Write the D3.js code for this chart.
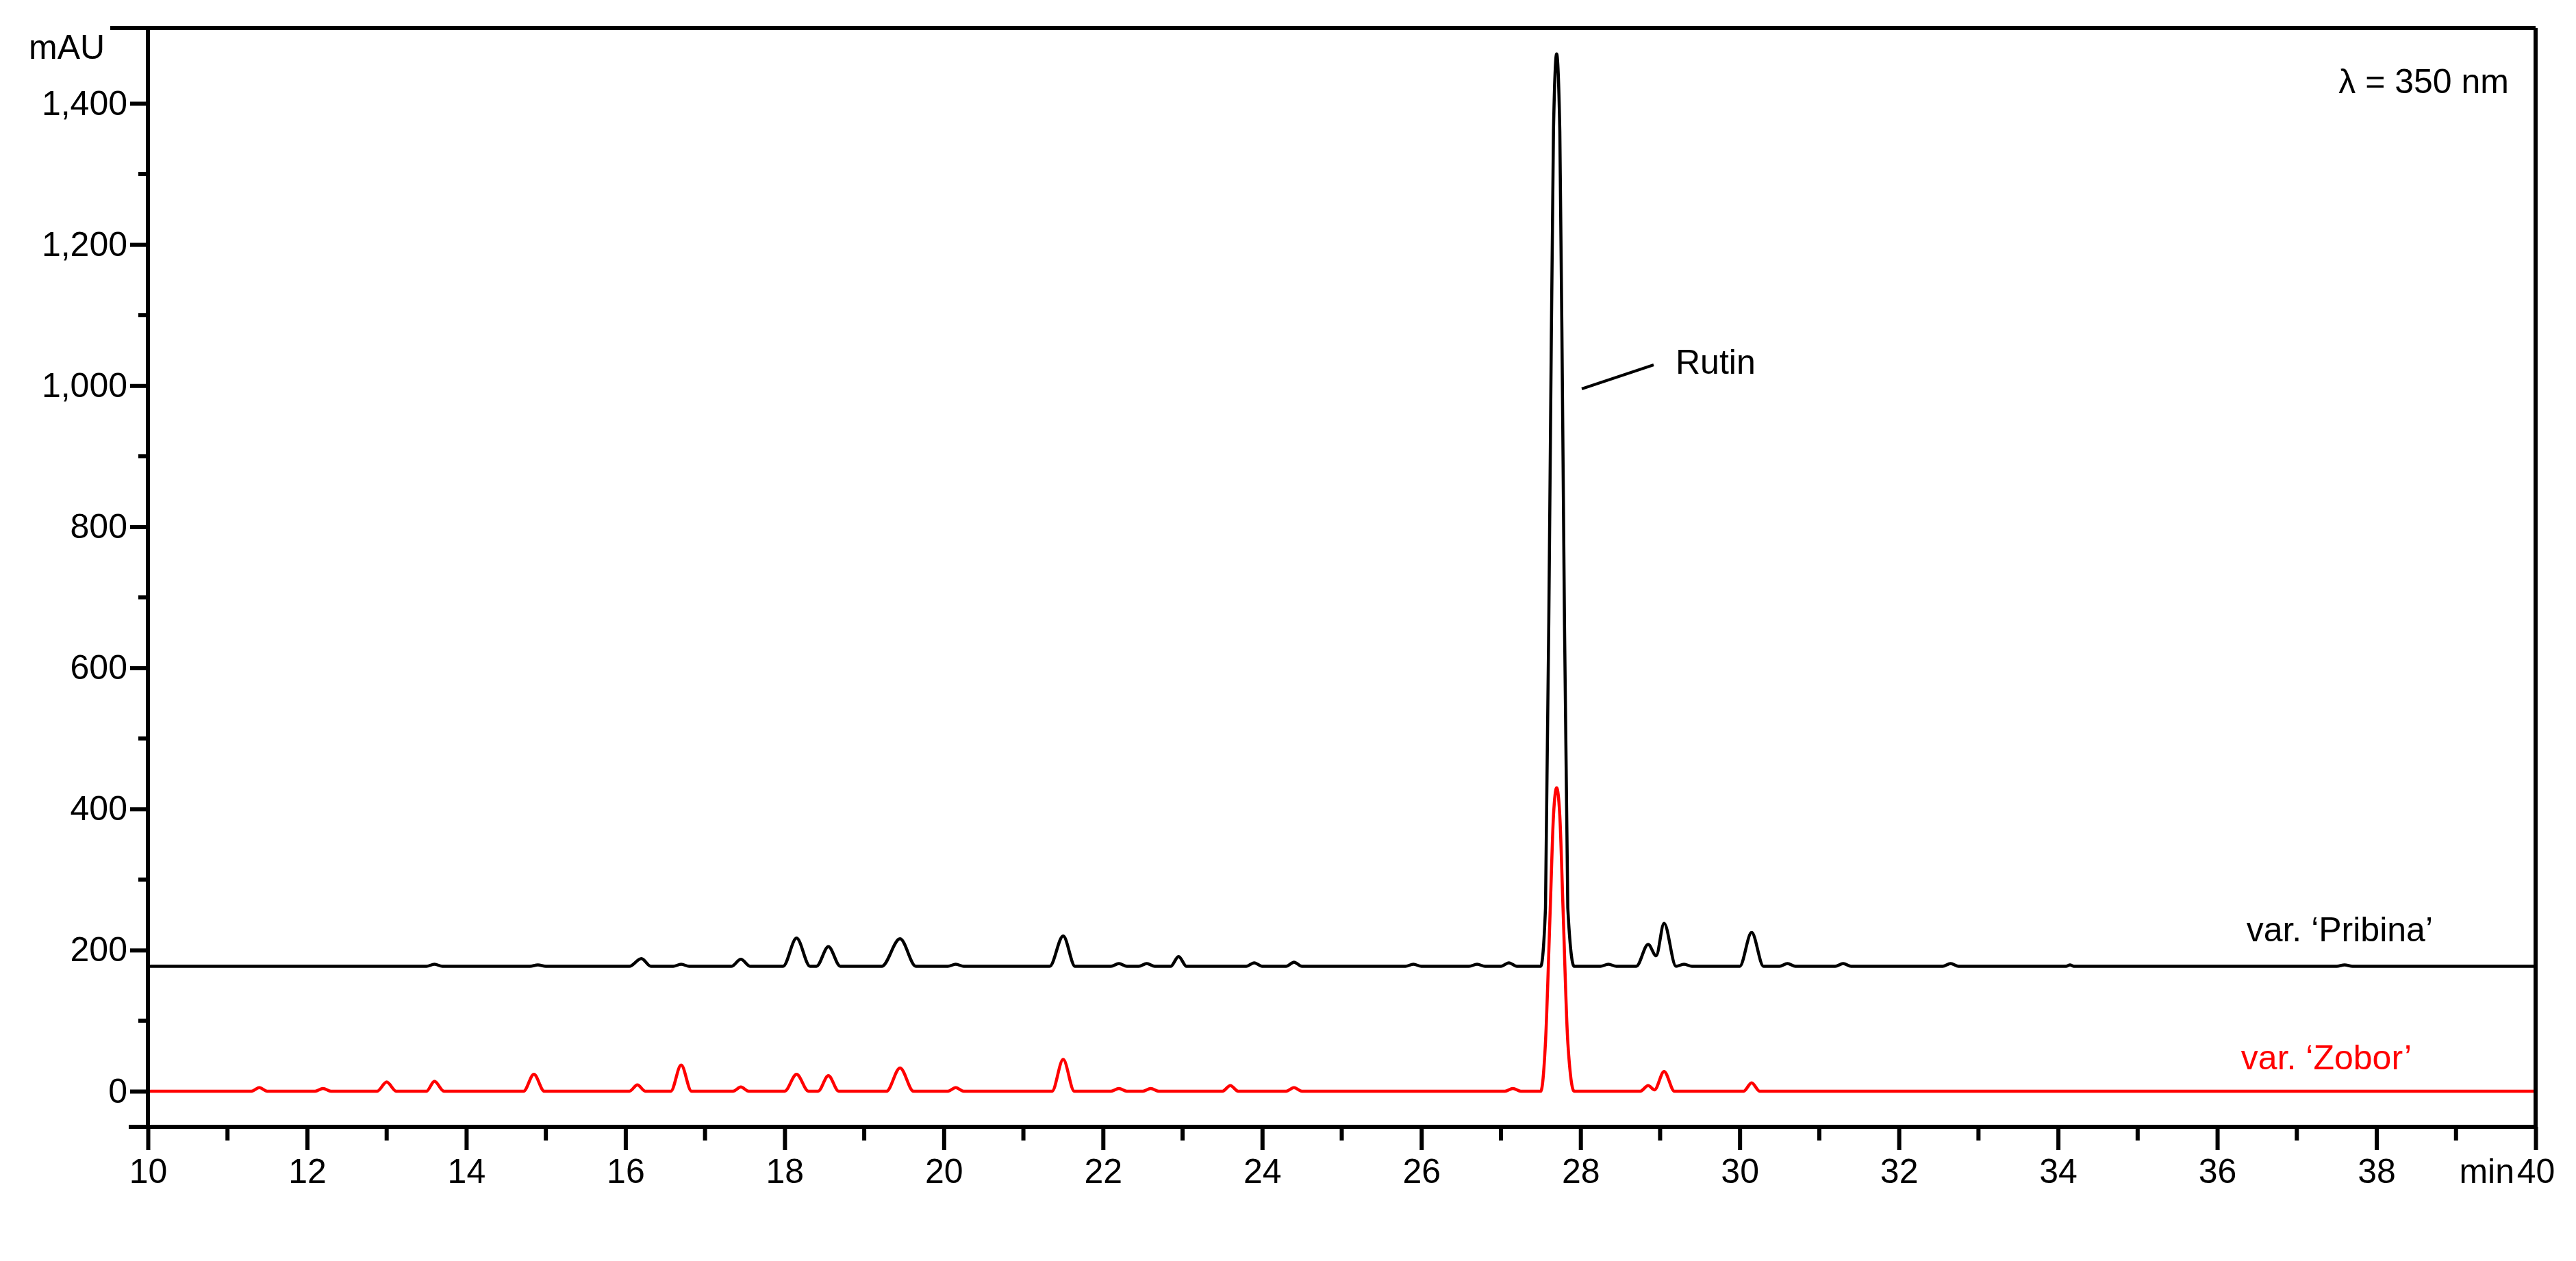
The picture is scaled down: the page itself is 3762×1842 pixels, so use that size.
<!DOCTYPE html>
<html>
<head>
<meta charset="utf-8">
<script src="https://cdn.jsdelivr.net/npm/d3@7"></script>
<style>
  body { margin: 0; background: #fff; }
  text { font-family: "Liberation Sans", Arial, sans-serif; }
</style>
</head>
<body>
<svg id="chart"></svg>
<script>
// chromatogram points: [time (min), absorbance (mAU)]
let pribina = [
  [10,177],[13.5,177],[13.6,180],[13.7,177],[14.8,177],[14.9,179],[15.0,177],
  [16.05,177],[16.2,188],[16.32,177],[16.6,177],[16.7,180],[16.8,177],
  [17.33,177],[17.45,187],[17.57,177],[17.98,177],[18.15,217],[18.32,177],
  [18.4,177],[18.55,205],[18.7,177],[19.22,177],[19.45,216],[19.65,177],
  [20.05,177],[20.15,180],[20.25,177],[21.33,177],[21.5,220],[21.65,177],
  [22.1,177],[22.2,181],[22.3,177],[22.45,177],[22.55,181],[22.65,177],
  [22.85,177],[22.95,191],[23.05,177],[23.8,177],[23.9,182],[24.0,177],
  [24.3,177],[24.4,183],[24.5,177],[25.8,177],[25.9,180],[26.0,177],
  [26.6,177],[26.7,180],[26.8,177],[27.0,177],[27.1,182],[27.2,177],
  [27.5,177],[27.56,260],[27.62,900],[27.66,1360],[27.7,1470],[27.74,1360],
  [27.78,900],[27.84,260],[27.92,177],[28.25,177],[28.35,180],[28.45,177],
  [28.7,177],[28.85,208],[28.95,192],[29.05,238],[29.2,177],[29.3,180],[29.4,177],
  [30.0,177],[30.15,225],[30.3,177],[30.5,177],[30.6,181],[30.7,177],
  [31.2,177],[31.3,181],[31.4,177],[32.55,177],[32.65,181],[32.75,177],
  [34.1,177],[34.15,179],[34.2,177],[37.5,177],[37.6,179],[37.7,177],[40,177]
];

let zobor = [
  [10,0],[11.3,0],[11.4,5],[11.5,0],[12.1,0],[12.2,4],[12.3,0],
  [12.88,0],[13.0,13],[13.12,0],[13.5,0],[13.6,14],[13.72,0],
  [14.72,0],[14.85,24],[14.98,0],[16.05,0],[16.15,9],[16.25,0],
  [16.57,0],[16.7,37],[16.83,0],[17.35,0],[17.45,6],[17.55,0],
  [18.0,0],[18.15,24],[18.3,0],[18.42,0],[18.55,22],[18.68,0],
  [19.28,0],[19.45,33],[19.62,0],[20.05,0],[20.15,5],[20.25,0],
  [21.36,0],[21.5,45],[21.64,0],[22.1,0],[22.2,4],[22.3,0],
  [22.5,0],[22.6,4],[22.7,0],[23.5,0],[23.6,8],[23.7,0],
  [24.3,0],[24.4,5],[24.5,0],[27.05,0],[27.15,4],[27.25,0],
  [27.5,0],[27.56,70],[27.62,260],[27.66,390],[27.7,430],[27.74,390],
  [27.78,260],[27.84,70],[27.92,0],[28.75,0],[28.85,8],[28.93,2],
  [29.05,28],[29.18,0],[30.05,0],[30.15,12],[30.25,0],[40,0]
];

let xTicks = d3.range(10, 41, 2);
let xMinor = d3.range(11, 40, 2);
let yTicks = [0, 200, 400, 600, 800, 1000, 1200, 1400];
let yMinor = [100, 300, 500, 700, 900, 1100, 1300];

let width = 3762;
let height = 1842;
let padLeft = 216, padRight = 3703, padTop = 41, padBottom = 1646;

const svg = d3.select('#chart')
    .attr('width', width)
    .attr('height', height);

let xScale = d3.scaleLinear()
    .domain([10, 40])
    .range([padLeft, padRight]);

let yScale = d3.scaleLinear()
    .domain([0, 1400])
    .range([1594, 151]);

let line = d3.line()
    .x(d => xScale(d[0]))
    .y(d => yScale(d[1]))
    .curve(d3.curveMonotoneX);

svg.append('path')
    .datum(zobor)
    .attr('d', line)
    .attr('fill', 'none')
    .attr('stroke', '#ff0000')
    .attr('stroke-width', 4.5);

svg.append('path')
    .datum(pribina)
    .attr('d', line)
    .attr('fill', 'none')
    .attr('stroke', '#000')
    .attr('stroke-width', 4.5);

// frame: top and right
svg.append('line').attr('x1', padLeft - 55).attr('x2', padRight).attr('y1', padTop).attr('y2', padTop)
    .attr('stroke', '#000').attr('stroke-width', 6);
svg.append('line').attr('x1', padRight).attr('x2', padRight).attr('y1', padTop).attr('y2', padBottom)
    .attr('stroke', '#000').attr('stroke-width', 6);

// y axis
let yAxis = svg.append('g')
    .attr('transform', `translate(${padLeft},0)`)
    .call(d3.axisLeft(yScale).tickValues(yTicks).tickSize(26).tickPadding(4)
        .tickFormat(d3.format(',')));
yAxis.select('.domain').remove();
yAxis.append('line').attr('y1', padTop).attr('y2', padBottom).attr('stroke', '#000').attr('stroke-width', 6);
yAxis.selectAll('.tick line').attr('stroke-width', 6);
yAxis.selectAll('.tick text').attr('font-size', 50).attr('fill', '#000');
yAxis.selectAll('.minor')
    .data(yMinor)
    .enter()
    .append('line')
        .attr('x1', -14).attr('x2', 0)
        .attr('y1', d => yScale(d)).attr('y2', d => yScale(d))
        .attr('stroke', '#000').attr('stroke-width', 6);

// x axis
let xAxis = svg.append('g')
    .attr('transform', `translate(0,${padBottom})`)
    .call(d3.axisBottom(xScale).tickValues(xTicks).tickSize(34).tickPadding(12));
xAxis.select('.domain').remove();
xAxis.append('line').attr('x1', padLeft - 28).attr('x2', padRight).attr('stroke', '#000').attr('stroke-width', 6);
xAxis.selectAll('.tick line').attr('stroke-width', 6);
xAxis.selectAll('.tick text').attr('font-size', 50).attr('fill', '#000');
xAxis.selectAll('.minor')
    .data(xMinor)
    .enter()
    .append('line')
        .attr('x1', d => xScale(d)).attr('x2', d => xScale(d))
        .attr('y1', 0).attr('y2', 20)
        .attr('stroke', '#000').attr('stroke-width', 6);

// texts
svg.append('text').attr('x', 42).attr('y', 86).attr('font-size', 50).text('mAU');
svg.append('text').attr('x', 3672).attr('y', 1728).attr('text-anchor', 'end').attr('font-size', 50).text('min');
svg.append('text').attr('x', 3664).attr('y', 136).attr('text-anchor', 'end').attr('font-size', 50).text('λ = 350 nm');
svg.append('text').attr('x', 3553).attr('y', 1375).attr('text-anchor', 'end').attr('font-size', 50).text('var. ‘Pribina’');
svg.append('text').attr('x', 3522).attr('y', 1562).attr('text-anchor', 'end').attr('font-size', 50)
    .attr('fill', '#ff0000').text('var. ‘Zobor’');

// Rutin label
svg.append('line').attr('x1', 2310).attr('y1', 568).attr('x2', 2415).attr('y2', 533)
    .attr('stroke', '#000').attr('stroke-width', 4);
svg.append('text').attr('x', 2447).attr('y', 546).attr('font-size', 50).text('Rutin');
</script>
</body>
</html>
